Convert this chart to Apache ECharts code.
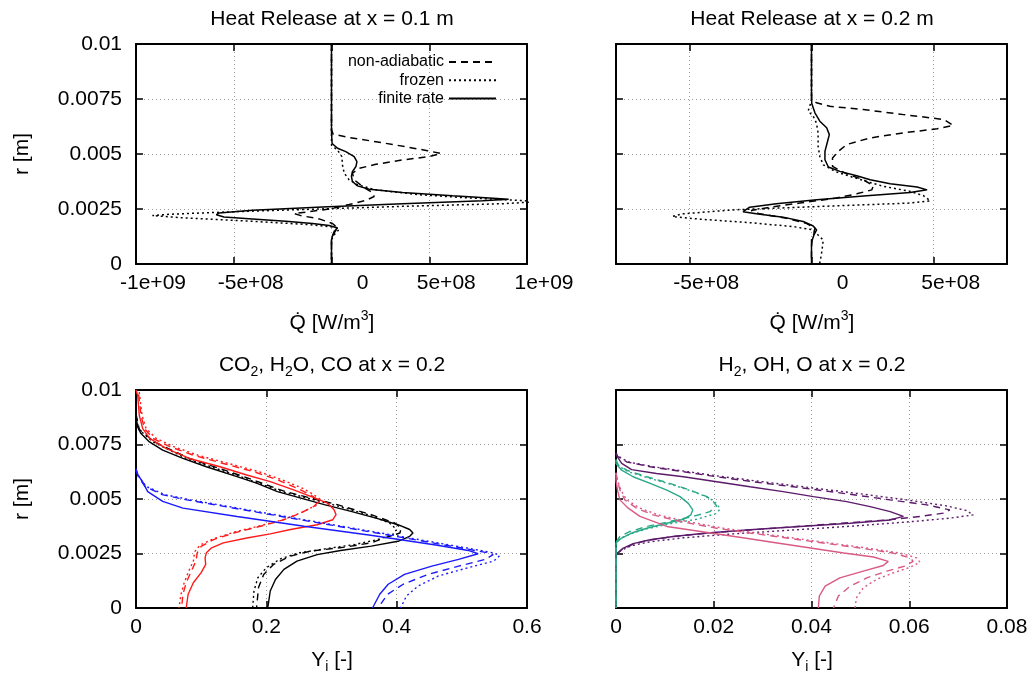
<!DOCTYPE html>
<html>
<head>
<meta charset="utf-8">
<script src="https://cdn.jsdelivr.net/npm/echarts@6/dist/echarts.min.js"></script>
<style>
  html, body { margin: 0; padding: 0; background: #fff; }
  #chart { width: 1034px; height: 677px; }
</style>
</head>
<body>
<div id="chart"></div>
<script>
// profiles are [value, r (m)] pairs from top to bottom

// heat release at x = 0.1 m
var q01Finite = [[0, 0.01], [0, 0.0060], [3e6, 0.00548], [3.1e7, 0.00526], [7.3e7, 0.00511], [1.16e8, 0.00488], [1.30e8, 0.00465], [1.25e8, 0.00443], [1.07e8, 0.0042], [1.02e8, 0.00398], [1.07e8, 0.00375], [1.33e8, 0.00355], [1.93e8, 0.0034], [3.63e8, 0.00325], [6.19e8, 0.0031], [8.07e8, 0.003], [9.06e8, 0.00294], [7.73e8, 0.00288], [3.63e8, 0.00274], [-4.6e7, 0.00259], [-4.04e8, 0.00244], [-5.75e8, 0.00232], [-5.89e8, 0.00224], [-5.5e8, 0.00214], [-4.04e8, 0.00205], [-2.34e8, 0.00194], [-9.7e7, 0.00184], [-1.2e7, 0.00175], [3.1e7, 0.00164], [1.4e7, 0.00149], [5e6, 0.00127], [0, 0.0011], [0, 0]];
var q01NonAdiab = [[0, 0.01], [0, 0.0061], [8.5e6, 0.0059], [9.0e7, 0.00575], [2.27e8, 0.00556], [3.8e8, 0.00533], [4.91e8, 0.00515], [5.6e8, 0.00502], [5.0e8, 0.00488], [3.63e8, 0.00473], [2.27e8, 0.00453], [1.42e8, 0.00435], [1.07e8, 0.00413], [1.16e8, 0.00383], [1.59e8, 0.00352], [2.13e8, 0.00322], [2.18e8, 0.00307], [1.76e8, 0.00289], [9.0e7, 0.0027], [-1.2e7, 0.0025], [-1.14e8, 0.00238], [-1.91e8, 0.00229], [-1.57e8, 0.0022], [-6.3e7, 0.00205], [5e6, 0.00184], [3.1e7, 0.00164], [1.4e7, 0.00142], [0, 0.0012], [0, 0]];
var q01Frozen = [[0, 0.01], [0, 0.0054], [3.1e7, 0.00518], [5.3e7, 0.00488], [5.6e7, 0.0045], [6.5e7, 0.00413], [9e7, 0.00383], [1.33e8, 0.0036], [2.27e8, 0.00337], [4.49e8, 0.00315], [7.05e8, 0.003], [9.6e8, 0.00289], [1.05e9, 0.00283], [8.75e8, 0.00274], [3.63e8, 0.00262], [-6.3e7, 0.0025], [-4.9e8, 0.00238], [-8.31e8, 0.00226], [-9.16e8, 0.0022], [-7.46e8, 0.00209], [-4.04e8, 0.00194], [-1.14e8, 0.00179], [2.2e7, 0.00167], [3.9e7, 0.00157], [1.5e7, 0.00134], [0, 0.0011], [0, 0]];

// heat release at x = 0.2 m
var q02Finite = [[0, 0.01], [0, 0.0079], [1e6, 0.0073], [1.4e7, 0.00687], [3.4e7, 0.00649], [6.2e7, 0.00619], [7.3e7, 0.00588], [6.4e7, 0.0055], [5.5e7, 0.00512], [5.5e7, 0.00474], [6.9e7, 0.00441], [1.16e8, 0.00421], [1.85e8, 0.00401], [2.4e8, 0.00383], [3.22e8, 0.00365], [4.32e8, 0.0035], [4.73e8, 0.00337], [4.04e8, 0.00325], [2.26e8, 0.0031], [2.1e7, 0.00292], [-1.44e8, 0.00274], [-2.53e8, 0.00258], [-2.8e8, 0.00238], [-2.26e8, 0.00228], [-1.16e8, 0.00213], [-3.4e7, 0.00193], [7e6, 0.00173], [2.1e7, 0.00155], [1e7, 0.00132], [3e6, 0.00109], [0, 0.0008], [0, 0]];
var q02NonAdiab = [[0, 0.01], [0, 0.0075], [2e7, 0.00733], [7.5e7, 0.00717], [2.12e8, 0.00702], [3.77e8, 0.00679], [5.41e8, 0.00657], [5.8e8, 0.0063], [5.14e8, 0.00615], [3.77e8, 0.00596], [2.4e8, 0.00573], [1.44e8, 0.00543], [1.1e8, 0.00512], [8.6e7, 0.00482], [8.6e7, 0.00444], [1.37e8, 0.00413], [2.12e8, 0.00383], [2.53e8, 0.00356], [2.47e8, 0.00337], [1.85e8, 0.00319], [1.03e8, 0.003], [-4.8e7, 0.00277], [-1.71e8, 0.00258], [-2.47e8, 0.00243], [-2.12e8, 0.00228], [-1.03e8, 0.00208], [-2.1e7, 0.00185], [1.4e7, 0.00163], [1e7, 0.0014], [0, 0.0011], [0, 0]];
var q02Frozen = [[0, 0.01], [0, 0.0075], [-7e6, 0.00717], [-1.4e7, 0.00695], [7e6, 0.00672], [2e7, 0.00641], [2.7e7, 0.00596], [2.7e7, 0.00535], [3.4e7, 0.00489], [4.8e7, 0.00451], [9.6e7, 0.00421], [1.58e8, 0.00398], [2.26e8, 0.00375], [2.95e8, 0.00353], [4.04e8, 0.0033], [4.59e8, 0.0031], [4.86e8, 0.00287], [4.04e8, 0.00277], [2.1e7, 0.00261], [-3.22e8, 0.00246], [-5.27e8, 0.00228], [-5.69e8, 0.00216], [-4.59e8, 0.00204], [-2.53e8, 0.00188], [-7.5e7, 0.0017], [7e6, 0.00155], [2.7e7, 0.00132], [4.8e7, 0.00109], [4.5e7, 0.0008], [4e7, 0.0004], [3.3e7, 0]];

// CO2, H2O, CO at x = 0.2 (black, red, blue)
var blackFinite = [[0, 0.0088], [0.0026, 0.0083], [0.0077, 0.008], [0.0206, 0.00762], [0.041, 0.00724], [0.072, 0.00686], [0.108, 0.00648], [0.155, 0.00603], [0.186, 0.00572], [0.217, 0.00534], [0.253, 0.00504], [0.289, 0.00474], [0.33, 0.00443], [0.371, 0.0041], [0.402, 0.00382], [0.42, 0.0036], [0.425, 0.00344], [0.42, 0.00329], [0.402, 0.00306], [0.361, 0.00284], [0.314, 0.00264], [0.278, 0.00245], [0.247, 0.00215], [0.227, 0.00177], [0.214, 0.00131], [0.206, 0.00078], [0.203, 0.00017], [0.202, 0]];
var blackNonAdiab = [[0, 0.0089], [0.005, 0.0082], [0.028, 0.00762], [0.082, 0.00686], [0.165, 0.00603], [0.229, 0.00534], [0.309, 0.00474], [0.361, 0.00428], [0.397, 0.0039], [0.407, 0.00367], [0.405, 0.00344], [0.381, 0.00321], [0.361, 0.00299], [0.32, 0.00279], [0.268, 0.00261], [0.237, 0.00238], [0.211, 0.002], [0.196, 0.00154], [0.188, 0.00094], [0.185, 0]];
var blackFrozen = [[0, 0.0089], [0.004, 0.0082], [0.026, 0.00762], [0.077, 0.00686], [0.16, 0.00603], [0.224, 0.00534], [0.302, 0.00474], [0.356, 0.00428], [0.389, 0.0039], [0.4, 0.0036], [0.394, 0.00337], [0.371, 0.00314], [0.335, 0.00291], [0.294, 0.00273], [0.25, 0.00253], [0.222, 0.00226], [0.2, 0.00185], [0.187, 0.00139], [0.181, 0.00078], [0.179, 0]];
var redFinite = [[0, 0.01], [0.0026, 0.00975], [0.005, 0.00884], [0.0103, 0.00823], [0.021, 0.00778], [0.046, 0.00732], [0.082, 0.00686], [0.129, 0.00648], [0.17, 0.0061], [0.206, 0.0058], [0.242, 0.00542], [0.268, 0.00512], [0.294, 0.00481], [0.304, 0.00451], [0.307, 0.00428], [0.302, 0.00405], [0.278, 0.00382], [0.237, 0.0036], [0.206, 0.0034], [0.17, 0.00321], [0.134, 0.00299], [0.116, 0.00276], [0.108, 0.00253], [0.106, 0.0023], [0.107, 0.002], [0.1, 0.00162], [0.088, 0.00116], [0.08, 0.00063], [0.077, 0]];
var redNonAdiab = [[0.004, 0.0098], [0.0077, 0.00884], [0.013, 0.00823], [0.026, 0.00778], [0.052, 0.0074], [0.088, 0.00701], [0.134, 0.00663], [0.18, 0.00626], [0.217, 0.00588], [0.247, 0.0055], [0.268, 0.00519], [0.281, 0.00492], [0.273, 0.00466], [0.253, 0.00436], [0.227, 0.00405], [0.191, 0.00375], [0.15, 0.00344], [0.119, 0.00314], [0.1, 0.00283], [0.094, 0.00253], [0.092, 0.00215], [0.085, 0.0017], [0.077, 0.00116], [0.072, 0.00063], [0.07, 0]];
var redFrozen = [[0.005, 0.0099], [0.0093, 0.00884], [0.0155, 0.00823], [0.031, 0.00778], [0.059, 0.00739], [0.095, 0.00701], [0.142, 0.00663], [0.188, 0.00626], [0.224, 0.00588], [0.255, 0.0055], [0.273, 0.00519], [0.284, 0.00496], [0.276, 0.0047], [0.255, 0.0044], [0.229, 0.00408], [0.193, 0.00379], [0.152, 0.00349], [0.119, 0.00318], [0.098, 0.00288], [0.09, 0.00258], [0.088, 0.00215], [0.081, 0.0017], [0.074, 0.00116], [0.069, 0.00063], [0.066, 0]];
var blueFinite = [[0, 0.0064], [0.003, 0.0061], [0.01, 0.0058], [0.018, 0.00534], [0.041, 0.00489], [0.072, 0.00458], [0.155, 0.0042], [0.258, 0.00375], [0.36, 0.00334], [0.46, 0.00289], [0.51, 0.00264], [0.525, 0.00249], [0.495, 0.00223], [0.454, 0.00192], [0.412, 0.00154], [0.387, 0.00109], [0.374, 0.00063], [0.366, 0.00017], [0.363, 0]];
var blueNonAdiab = [[0, 0.0063], [0.004, 0.006], [0.014, 0.00557], [0.04, 0.0052], [0.078, 0.00496], [0.2, 0.00432], [0.3, 0.0038], [0.4, 0.00328], [0.5, 0.00275], [0.54, 0.00253], [0.548, 0.00245], [0.536, 0.00223], [0.495, 0.00192], [0.448, 0.00154], [0.41, 0.00109], [0.386, 0.00063], [0.376, 0.0002], [0.374, 0]];
var blueFrozen = [[0, 0.0063], [0.005, 0.006], [0.016, 0.00557], [0.044, 0.0052], [0.084, 0.00496], [0.206, 0.00432], [0.306, 0.0038], [0.407, 0.00328], [0.508, 0.00275], [0.55, 0.00252], [0.558, 0.0024], [0.549, 0.00215], [0.51, 0.00185], [0.464, 0.00147], [0.433, 0.00101], [0.415, 0.00055], [0.406, 0]];

// H2, OH, O at x = 0.2 (purple, green, pink)
var purpleFinite = [[0, 0.0071], [0.0003, 0.00693], [0.00116, 0.00663], [0.0032, 0.00635], [0.0083, 0.00617], [0.0138, 0.00602], [0.0206, 0.00579], [0.0274, 0.00556], [0.0342, 0.00534], [0.0404, 0.00511], [0.0472, 0.00488], [0.052, 0.00465], [0.0561, 0.00442], [0.0588, 0.0042], [0.0561, 0.00404], [0.0479, 0.00389], [0.0376, 0.00374], [0.0274, 0.00359], [0.0186, 0.00344], [0.0117, 0.00328], [0.007, 0.00313], [0.0035, 0.00295], [0.0015, 0.00275], [0.0003, 0.00252], [0, 0.0024], [0, 0]];
var purpleNonAdiab = [[0, 0.0071], [0.0003, 0.00696], [0.0022, 0.0067], [0.007, 0.00648], [0.0138, 0.00625], [0.0206, 0.00602], [0.0281, 0.00579], [0.0363, 0.00556], [0.0465, 0.00526], [0.0561, 0.00496], [0.0636, 0.00473], [0.0683, 0.0045], [0.067, 0.00435], [0.0622, 0.0042], [0.0554, 0.00404], [0.0445, 0.00386], [0.0322, 0.00366], [0.0206, 0.00347], [0.0117, 0.00328], [0.0063, 0.0031], [0.0032, 0.0029], [0.0012, 0.00268], [0.0001, 0.00245], [0, 0.0023], [0, 0]];
var purpleFrozen = [[0, 0.0071], [0.0005, 0.00696], [0.0025, 0.0067], [0.0076, 0.00648], [0.0148, 0.00625], [0.022, 0.00602], [0.0301, 0.00579], [0.0383, 0.00556], [0.0492, 0.00526], [0.0595, 0.00496], [0.0677, 0.00468], [0.0717, 0.00447], [0.0731, 0.00427], [0.0683, 0.00412], [0.0608, 0.00397], [0.0499, 0.00378], [0.037, 0.00359], [0.024, 0.0034], [0.0138, 0.00322], [0.007, 0.00304], [0.0032, 0.00286], [0.001, 0.00264], [0.0001, 0.00245], [0, 0.0023], [0, 0]];
var greenFinite = [[0, 0.0068], [0, 0.00663], [0.00116, 0.00632], [0.0035, 0.00602], [0.007, 0.00572], [0.0104, 0.00541], [0.0131, 0.00511], [0.0148, 0.0048], [0.0157, 0.0045], [0.0153, 0.00427], [0.0138, 0.00407], [0.0104, 0.00389], [0.0063, 0.00366], [0.0032, 0.00344], [0.00116, 0.00321], [0, 0.00298], [0, 0]];
var greenNonAdiab = [[0, 0.0068], [0.0005, 0.00655], [0.0022, 0.00632], [0.0063, 0.00602], [0.011, 0.00572], [0.0151, 0.00541], [0.0186, 0.00511], [0.0199, 0.00488], [0.0206, 0.00468], [0.0192, 0.00442], [0.0158, 0.0042], [0.011, 0.00397], [0.0063, 0.00374], [0.0029, 0.00351], [0.0008, 0.00328], [0.0001, 0.00306], [0, 0.0029], [0, 0]];
var greenFrozen = [[0, 0.0068], [0.0005, 0.00651], [0.0025, 0.00625], [0.007, 0.00594], [0.0117, 0.00564], [0.0158, 0.00534], [0.0192, 0.00503], [0.0207, 0.00477], [0.0213, 0.00453], [0.0203, 0.00432], [0.0165, 0.00407], [0.011, 0.00386], [0.0063, 0.00363], [0.0029, 0.0034], [0.0008, 0.00318], [0.0001, 0.00298], [0, 0.0028], [0, 0]];
var pinkFinite = [[0, 0.0062], [0, 0.00587], [0.0003, 0.00541], [0.0008, 0.00496], [0.0025, 0.00458], [0.0049, 0.0042], [0.0104, 0.00374], [0.0194, 0.00344], [0.0263, 0.00321], [0.033, 0.00298], [0.0398, 0.00275], [0.0466, 0.00252], [0.0527, 0.00234], [0.0557, 0.00214], [0.0547, 0.00195], [0.0506, 0.00169], [0.0458, 0.00138], [0.0428, 0.001], [0.0416, 0.00055], [0.0414, 0]];
var pinkNonAdiab = [[0, 0.0062], [0.0003, 0.00587], [0.0008, 0.00541], [0.0018, 0.00496], [0.0042, 0.00458], [0.0076, 0.00427], [0.0131, 0.00397], [0.0206, 0.00366], [0.0274, 0.00344], [0.0349, 0.00321], [0.0424, 0.00298], [0.0499, 0.00275], [0.0567, 0.00252], [0.0602, 0.0023], [0.0608, 0.00214], [0.0591, 0.00192], [0.0554, 0.00169], [0.0513, 0.00138], [0.0479, 0.001], [0.0455, 0.00055], [0.0445, 0]];
var pinkFrozen = [[0, 0.0062], [0.0003, 0.00587], [0.001, 0.00541], [0.0022, 0.00496], [0.0049, 0.00458], [0.0087, 0.00427], [0.0145, 0.00397], [0.022, 0.00366], [0.0288, 0.00344], [0.0363, 0.00321], [0.0438, 0.00298], [0.0513, 0.00275], [0.0581, 0.00252], [0.0615, 0.0023], [0.0622, 0.0021], [0.0602, 0.00187], [0.0567, 0.00161], [0.0533, 0.00131], [0.0506, 0.00093], [0.0492, 0.00047], [0.0489, 0]];

var legendNames = ['non-adiabatic', 'frozen', 'finite rate'];
var panelTitles = ['Heat Release at x = 0.1 m', 'Heat Release at x = 0.2 m',
  '{t|CO}{s|2}{t|, H}{s|2}{t|O, CO at x = 0.2}', '{t|H}{s|2}{t|, OH, O at x = 0.2}'];

var FONT = 'Liberation Sans';
var DASH = [7, 5];
var DOT = [2, 3];

var grids = [
  { left: 136, top: 44, width: 391, height: 220 },
  { left: 616, top: 44, width: 391, height: 220 },
  { left: 136, top: 390, width: 391, height: 218 },
  { left: 616, top: 390, width: 391, height: 218 }
];

// gnuplot style exponent labels, e.g. -5e+08
function gnuExp(v) {
  if (v === 0) return '{z|0}';
  var parts = v.toExponential().split('e');
  var e = parts[1];
  var digits = e.slice(1);
  if (digits.length < 2) digits = '0' + digits;
  return '{o|' + parts[0] + 'e' + e[0] + digits + '}';
}

var qRich = {
  o: { fontSize: 21, fontFamily: FONT, color: '#000', padding: [0, 0, 0, 34] },
  z: { fontSize: 21, fontFamily: FONT, color: '#000', padding: [0, 0, 0, 62] }
};

function xAxisPair(i, range, labelOpt) {
  var base = {
    type: 'value', gridIndex: i, min: range.min, max: range.max,
    axisLine: { show: true, onZero: false, lineStyle: { color: '#000', width: 2 } },
    axisTick: { show: true, inside: true, length: 7, lineStyle: { color: '#000', width: 1.5 } }
  };
  if (range.interval) base.interval = range.interval;
  if (range.splitNumber) base.splitNumber = range.splitNumber;
  var bottom = Object.assign({}, base, {
    position: 'bottom',
    splitLine: { show: true, lineStyle: { color: '#9a9a9a', width: 1, type: [1, 3] } },
    axisLabel: Object.assign({ color: '#000', fontSize: 21, fontFamily: FONT, margin: 9 }, labelOpt)
  });
  var top = Object.assign({}, base, {
    position: 'top', splitLine: { show: false }, axisLabel: { show: false }
  });
  return [bottom, top];
}

function yAxisPair(i, withLabels) {
  var base = {
    type: 'value', gridIndex: i, min: 0, max: 0.01, interval: 0.0025,
    axisLine: { show: true, onZero: false, lineStyle: { color: '#000', width: 2 } },
    axisTick: { show: true, inside: true, length: 7, lineStyle: { color: '#000', width: 1.5 } }
  };
  var left = Object.assign({}, base, {
    position: 'left',
    splitLine: { show: true, lineStyle: { color: '#9a9a9a', width: 1, type: [1, 3] } },
    axisLabel: { show: withLabels, color: '#000', fontSize: 21, fontFamily: FONT, margin: 14 }
  });
  if (withLabels) {
    left.name = 'r [m]';
    left.nameLocation = 'middle';
    left.nameGap = 103;
    left.nameTextStyle = { color: '#000', fontSize: 21, fontFamily: FONT };
  }
  var right = Object.assign({}, base, {
    position: 'right', splitLine: { show: false }, axisLabel: { show: false }
  });
  return [left, right];
}

var xAxes0 = xAxisPair(0, { min: -1e9, max: 1e9, interval: 5e8 }, { formatter: gnuExp, rich: qRich });
var xAxes1 = xAxisPair(1, { min: -8e8, max: 8e8, splitNumber: 3 },
  { formatter: gnuExp, rich: qRich, showMinLabel: false, showMaxLabel: false });
var xAxes2 = xAxisPair(2, { min: 0, max: 0.6, interval: 0.2 }, {});
var xAxes3 = xAxisPair(3, { min: 0, max: 0.08, interval: 0.02 }, {});
var yAxes = [yAxisPair(0, true), yAxisPair(1, false), yAxisPair(2, true), yAxisPair(3, false)];

function profile(name, data, i, color, type, width) {
  return {
    name: name, type: 'line', xAxisIndex: i, yAxisIndex: i, data: data,
    symbol: 'none', silent: true, animation: false, clip: true,
    lineStyle: { color: color, width: width || 1.5, type: type },
    itemStyle: { color: color }
  };
}

var RED = '#ff1a1a', BLUE = '#1a1aff', BLACK = '#000';
var PURPLE = '#5b1a6a', GREEN = '#2aa888', PINK = '#d95a84';

var seriesList = [
  profile('non-adiabatic', q01NonAdiab, 0, BLACK, DASH),
  profile('frozen', q01Frozen, 0, BLACK, DOT),
  profile('finite rate', q01Finite, 0, BLACK, 'solid'),
  profile('non-adiabatic', q02NonAdiab, 1, BLACK, DASH),
  profile('frozen', q02Frozen, 1, BLACK, DOT),
  profile('finite rate', q02Finite, 1, BLACK, 'solid'),
  profile('black na', blackNonAdiab, 2, BLACK, DASH, 1.4),
  profile('black fr', blackFrozen, 2, BLACK, DOT, 1.4),
  profile('black fin', blackFinite, 2, BLACK, 'solid', 1.4),
  profile('red na', redNonAdiab, 2, RED, DASH, 1.4),
  profile('red fr', redFrozen, 2, RED, DOT, 1.4),
  profile('red fin', redFinite, 2, RED, 'solid', 1.4),
  profile('blue na', blueNonAdiab, 2, BLUE, DASH, 1.4),
  profile('blue fr', blueFrozen, 2, BLUE, DOT, 1.4),
  profile('blue fin', blueFinite, 2, BLUE, 'solid', 1.4),
  profile('purple na', purpleNonAdiab, 3, PURPLE, DASH, 1.4),
  profile('purple fr', purpleFrozen, 3, PURPLE, DOT, 1.4),
  profile('purple fin', purpleFinite, 3, PURPLE, 'solid', 1.4),
  profile('green na', greenNonAdiab, 3, GREEN, DASH, 1.4),
  profile('green fr', greenFrozen, 3, GREEN, DOT, 1.4),
  profile('green fin', greenFinite, 3, GREEN, 'solid', 1.4),
  profile('pink na', pinkNonAdiab, 3, PINK, DASH, 1.4),
  profile('pink fr', pinkFrozen, 3, PINK, DOT, 1.4),
  profile('pink fin', pinkFinite, 3, PINK, 'solid', 1.4)
];

var richText = {
  t: { fontSize: 21, lineHeight: 28, fontFamily: FONT, color: '#000' },
  s: { fontSize: 14, lineHeight: 14, fontFamily: FONT, color: '#000', verticalAlign: 'bottom' },
  p: { fontSize: 14, lineHeight: 14, fontFamily: FONT, color: '#000', verticalAlign: 'top' }
};

function label(text, cx, top) {
  return {
    text: text, left: cx, top: top, textAlign: 'center', padding: 0,
    textStyle: { fontSize: 21, fontWeight: 'normal', fontFamily: FONT, color: '#000', lineHeight: 28, rich: richText }
  };
}

var qName = '{t|Q\u0307 [W/m}{p|3}{t|]}';
var yName = '{t|Y}{s|i}{t| [-]}';

var option = {
  backgroundColor: '#fff',
  animation: false,
  textStyle: { fontFamily: FONT },
  title: [
    label('{t|' + panelTitles[0] + '}', 332, 5),
    label('{t|' + panelTitles[1] + '}', 812, 5),
    label(panelTitles[2], 332, 351),
    label(panelTitles[3], 812, 351),
    label(qName, 332, 309),
    label(qName, 812, 309),
    label(yName, 332, 646),
    label(yName, 812, 646)
  ],
  legend: {
    data: legendNames,
    orient: 'vertical',
    right: 1034 - 502,
    top: 49,
    align: 'right',
    itemWidth: 47,
    itemHeight: 14,
    itemGap: 2.3,
    selectedMode: false,
    // hide the marker circle, keep the dashed / dotted line sample
    itemStyle: { color: 'rgba(0,0,0,0)', borderColor: 'rgba(0,0,0,0)', borderWidth: 0, opacity: 0 },
    textStyle: { fontSize: 16, fontFamily: FONT, color: '#000', lineHeight: 14 }
  },
  grid: grids,
  xAxis: [xAxes0[0], xAxes1[0], xAxes2[0], xAxes3[0], xAxes0[1], xAxes1[1], xAxes2[1], xAxes3[1]],
  yAxis: [yAxes[0][0], yAxes[1][0], yAxes[2][0], yAxes[3][0], yAxes[0][1], yAxes[1][1], yAxes[2][1], yAxes[3][1]],
  series: seriesList
};

// the top axes and right axes share grid and scale with their partners
for (var k = 0; k < 4; k++) {
  option.xAxis[4 + k].gridIndex = k;
  option.yAxis[4 + k].gridIndex = k;
}

var chart = echarts.init(document.getElementById('chart'));
chart.setOption(option);
</script>
</body>
</html>
